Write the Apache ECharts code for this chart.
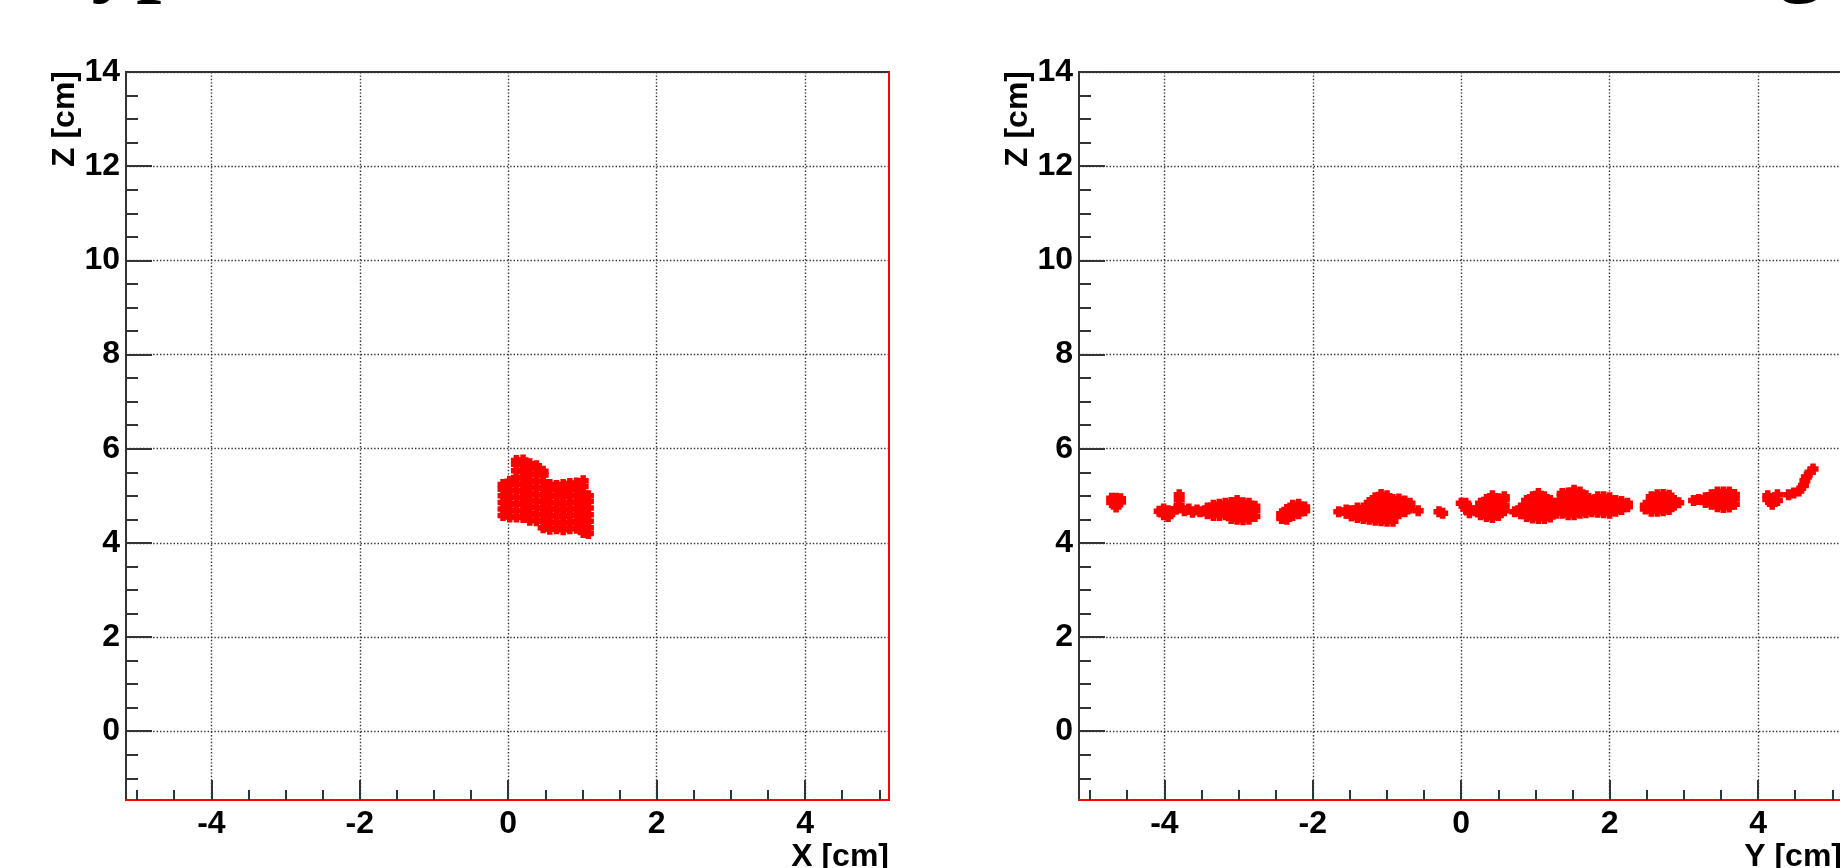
<!DOCTYPE html>
<html>
<head>
<meta charset="utf-8">
<script src="https://cdn.jsdelivr.net/npm/echarts@6/dist/echarts.min.js"></script>
<style>
  html, body { margin: 0; padding: 0; background: #fff; }
  #chart { width: 1840px; height: 868px; }
</style>
</head>
<body>
<div id="chart"></div>
<script>
// axis ranges and tick positions (cm)
const xRange = [-5.15, 5.13];
const zRange = [-1.46, 14];
const xMajor = [-4, -2, 0, 2, 4];
const xMinor = [-5, -4.5, -3.5, -3, -2.5, -1.5, -1, -0.5, 0.5, 1, 1.5, 2.5, 3, 3.5, 4.5, 5];
const zMajor = [0, 2, 4, 6, 8, 10, 12, 14];
const zMinor = [-1, -0.5, 0.5, 1, 1.5, 2.5, 3, 3.5, 4.5, 5, 5.5, 6.5, 7, 7.5, 8.5, 9, 9.5,
  10.5, 11, 11.5, 12.5, 13, 13.5];

const titleText = "Typical event in the detector after the tracking";
const axisNames = { left: ["X [cm]", "Z [cm]"], right: ["Y [cm]", "Z [cm]"] };

// hits in the X-Z view, as [x, [z, z, ...]] columns
const xzHits = [
  [-0.07, [4.58, 4.72, 4.86, 5.00, 5.14, 5.24]],
  [0.02, [4.55, 4.69, 4.83, 4.97, 5.11, 5.25, 5.31]],
  [0.11, [4.55, 4.69, 4.83, 4.97, 5.11, 5.25, 5.39, 5.53, 5.67, 5.75]],
  [0.20, [4.54, 4.68, 4.82, 4.96, 5.10, 5.24, 5.38, 5.52, 5.66, 5.76]],
  [0.29, [4.48, 4.62, 4.76, 4.90, 5.04, 5.18, 5.32, 5.46, 5.60, 5.68]],
  [0.38, [4.47, 4.61, 4.75, 4.89, 5.03, 5.17, 5.31, 5.45, 5.58, 5.64]],
  [0.47, [4.32, 4.46, 4.60, 4.74, 4.88, 5.02, 5.16, 5.30, 5.44, 5.52]],
  [0.56, [4.29, 4.43, 4.57, 4.71, 4.85, 4.99, 5.13, 5.24]],
  [0.65, [4.30, 4.44, 4.58, 4.72, 4.86, 5.00, 5.14, 5.22]],
  [0.74, [4.28, 4.42, 4.56, 4.70, 4.84, 4.98, 5.12, 5.24]],
  [0.83, [4.30, 4.44, 4.58, 4.72, 4.86, 5.00, 5.14, 5.26]],
  [0.92, [4.31, 4.45, 4.59, 4.73, 4.87, 5.01, 5.15, 5.27]],
  [1.01, [4.22, 4.36, 4.50, 4.64, 4.78, 4.92, 5.06, 5.20, 5.32]],
  [1.08, [4.20, 4.32, 4.46, 4.60, 4.74, 4.88, 5.00]]
];

// hits in the Y-Z view, y < 0
const yzHitsNeg = [
  [-4.71, [4.86, 4.95]], [-4.65, [4.76, 4.86, 4.95]], [-4.59, [4.87, 4.94]],
  [-4.07, [4.67]], [-4.01, [4.60, 4.72]], [-3.95, [4.56, 4.68]], [-3.89, [4.66]],
  [-3.84, [4.72]], [-3.80, [4.80, 4.92, 5.02]], [-3.73, [4.68]], [-3.67, [4.72]],
  [-3.62, [4.65]], [-3.56, [4.70]], [-3.52, [4.66]],
  [-3.42, [4.62, 4.74]], [-3.34, [4.58, 4.70, 4.80]], [-3.26, [4.58, 4.70, 4.82]],
  [-3.18, [4.60, 4.72, 4.84]], [-3.10, [4.52, 4.64, 4.76, 4.86]],
  [-3.02, [4.50, 4.62, 4.74, 4.86, 4.90]], [-2.94, [4.49, 4.61, 4.73, 4.85]],
  [-2.86, [4.50, 4.62, 4.74, 4.84]], [-2.78, [4.56, 4.68, 4.78]],
  [-2.42, [4.52, 4.62]], [-2.35, [4.50, 4.62, 4.71]], [-2.27, [4.58, 4.70, 4.80]],
  [-2.19, [4.62, 4.74, 4.82]], [-2.11, [4.68, 4.76]],
  [-1.65, [4.66]],
  [-1.55, [4.63, 4.70]], [-1.48, [4.57, 4.68]], [-1.40, [4.54, 4.66, 4.74]],
  [-1.32, [4.52, 4.64, 4.74]], [-1.24, [4.50, 4.62, 4.74, 4.86]],
  [-1.16, [4.48, 4.60, 4.72, 4.84, 4.96]], [-1.08, [4.47, 4.59, 4.71, 4.83, 4.95, 5.03]],
  [-1.00, [4.46, 4.58, 4.70, 4.82, 4.94, 5.00]], [-0.92, [4.46, 4.58, 4.70, 4.82, 4.92]],
  [-0.84, [4.62, 4.74, 4.86, 4.93]], [-0.76, [4.66, 4.78, 4.89]], [-0.69, [4.74, 4.84]],
  [-0.58, [4.68]], [-0.30, [4.66]], [-0.25, [4.63]]
];

// hits in the Y-Z view, y >= 0
const yzHitsPos = [
  [0.00, [4.84]], [0.06, [4.72, 4.84]], [0.11, [4.64, 4.74]],
  [0.19, [4.68]], [0.26, [4.60, 4.72, 4.84]], [0.34, [4.56, 4.68, 4.80, 4.92]],
  [0.42, [4.54, 4.66, 4.78, 4.90, 5.00]], [0.50, [4.58, 4.70, 4.82, 4.94]],
  [0.58, [4.68, 4.80, 4.92, 4.98]],
  [0.72, [4.66]], [0.80, [4.62, 4.74]], [0.88, [4.56, 4.68, 4.80, 4.90]],
  [0.96, [4.53, 4.65, 4.77, 4.89, 4.98]], [1.04, [4.52, 4.64, 4.76, 4.88, 5.00, 5.05]],
  [1.12, [4.52, 4.64, 4.76, 4.88, 4.98]], [1.20, [4.55, 4.67, 4.79, 4.90]],
  [1.28, [4.63, 4.75, 4.84]], [1.36, [4.63, 4.75, 4.87, 4.99, 5.05]],
  [1.44, [4.60, 4.72, 4.84, 4.96, 5.06]], [1.52, [4.60, 4.72, 4.84, 4.96, 5.08, 5.12]],
  [1.60, [4.63, 4.75, 4.87, 4.99, 5.08]], [1.68, [4.64, 4.76, 4.88, 5.00]],
  [1.76, [4.66, 4.78, 4.90]], [1.84, [4.65, 4.77, 4.89, 4.98]],
  [1.92, [4.64, 4.76, 4.88, 4.98]], [2.00, [4.63, 4.75, 4.87, 4.96]],
  [2.08, [4.67, 4.79, 4.90]], [2.16, [4.71, 4.81, 4.88]], [2.24, [4.77, 4.84]],
  [2.48, [4.72, 4.80]], [2.56, [4.67, 4.79, 4.91, 4.98]], [2.64, [4.67, 4.79, 4.91, 5.02]],
  [2.72, [4.68, 4.80, 4.92, 5.03]], [2.80, [4.71, 4.83, 4.95, 5.01]],
  [2.87, [4.80, 4.90]], [2.93, [4.85]],
  [3.13, [4.90]], [3.20, [4.92]],
  [3.29, [4.86, 4.96]], [3.37, [4.82, 4.92, 5.02]], [3.45, [4.77, 4.89, 5.01, 5.08]],
  [3.53, [4.75, 4.87, 4.99, 5.08]], [3.61, [4.76, 4.88, 5.00, 5.08]], [3.68, [4.82, 4.94, 5.03]],
  [4.13, [4.92, 5.00]], [4.19, [4.82, 4.94]], [4.26, [4.90, 5.02]],
  [4.41, [5.02]], [4.48, [5.06]], [4.55, [5.10]], [4.61, [5.22]], [4.63, [5.32]],
  [4.65, [5.40]], [4.70, [5.50]], [4.74, [5.57]]
];

function toPoints(columns) {
  return columns.flatMap(([x, zs]) => zs.map((z) => [x, z]));
}

const font = { fontFamily: "Liberation Sans", fontWeight: "bold", fontSize: 32, color: "#000" };
const nameFont = 'bold 32px "Liberation Sans"';
const frameColor = "#333";
const gridLine = { color: "#333", width: 1.4, type: [1.4, 2] };
const marker = "path://M1,0H3V1H4V3H3V4H1V3H0V1H1Z";

// frame placement of the two pads
const pads = [
  { left: 126, top: 72, width: 763, height: 728 },
  { left: 1079, top: 72, width: 763, height: 728 }
];

function makeXAxes(grid) {
  return [
    {
      gridIndex: grid, type: "value", min: xRange[0], max: xRange[1], position: "bottom",
      axisLine: { onZero: false, lineStyle: { color: "#ff0000", width: 2 } },
      axisTick: { inside: true, length: 20, customValues: xMajor, lineStyle: { color: frameColor, width: 2 } },
      axisLabel: { customValues: xMajor, margin: 8, ...font },
      splitLine: { show: true, lineStyle: gridLine }
    },
    {
      gridIndex: grid, type: "value", min: xRange[0], max: xRange[1], position: "bottom",
      axisLine: { show: false, onZero: false },
      axisTick: { inside: true, length: 10, customValues: xMinor, lineStyle: { color: frameColor, width: 2 } },
      axisLabel: { show: false },
      splitLine: { show: false }
    }
  ];
}

function makeYAxes(grid) {
  return [
    {
      gridIndex: grid, type: "value", min: zRange[0], max: zRange[1], position: "left",
      axisLine: { onZero: false, lineStyle: { color: frameColor, width: 2 } },
      axisTick: { inside: true, length: 26, customValues: zMajor, lineStyle: { color: frameColor, width: 2 } },
      axisLabel: { customValues: zMajor, margin: 6, ...font },
      splitLine: { show: true, lineStyle: gridLine }
    },
    {
      gridIndex: grid, type: "value", min: zRange[0], max: zRange[1], position: "left",
      axisLine: { show: false, onZero: false },
      axisTick: { inside: true, length: 12, customValues: zMinor, lineStyle: { color: frameColor, width: 2 } },
      axisLabel: { show: false },
      splitLine: { show: false }
    },
    {
      // red right edge of the frame
      gridIndex: grid, type: "value", min: zRange[0], max: zRange[1], position: "right",
      axisLine: { show: true, onZero: false, lineStyle: { color: "#ff0000", width: 2 } },
      axisTick: { show: false },
      axisLabel: { show: false },
      splitLine: { show: false }
    }
  ];
}

// axis titles: x title under the right end, z title rotated next to the top
function axisTitles(pad, names) {
  return [
    {
      type: "text", x: pad.left + pad.width, y: pad.top + pad.height + 41, silent: true,
      style: { text: names[0], font: nameFont, fill: "#000", align: "right", verticalAlign: "top" }
    },
    {
      type: "text", x: pad.left - 61, y: pad.top - 1, rotation: Math.PI / 2, silent: true,
      style: { text: names[1], font: nameFont, fill: "#000", align: "right", verticalAlign: "middle" }
    }
  ];
}

function hitSeries(xIdx, yIdx, data) {
  return {
    type: "scatter", xAxisIndex: xIdx, yAxisIndex: yIdx, data: data,
    symbol: marker, symbolSize: 11, silent: true,
    itemStyle: { color: "#ff0000", opacity: 1 }
  };
}

const chart = echarts.init(document.getElementById("chart"));
chart.setOption({
  animation: false,
  backgroundColor: "#fff",
  graphic: [
    {
      // slide title above the pads, only its descenders reach into the picture
      type: "text", x: 38, y: -38, silent: true,
      style: { text: titleText, font: 'bold 90px "Liberation Serif"', fill: "#000", verticalAlign: "middle" }
    },
    ...axisTitles(pads[0], axisNames.left),
    ...axisTitles(pads[1], axisNames.right)
  ],
  grid: pads.map((p) => ({
    ...p, show: true, borderColor: frameColor, borderWidth: 2, containLabel: false, outerBoundsMode: "none"
  })),
  xAxis: [...makeXAxes(0), ...makeXAxes(1)],
  yAxis: [...makeYAxes(0), ...makeYAxes(1)],
  series: [
    hitSeries(0, 0, toPoints(xzHits)),
    hitSeries(2, 3, toPoints(yzHitsNeg).concat(toPoints(yzHitsPos)))
  ]
});
</script>
</body>
</html>
